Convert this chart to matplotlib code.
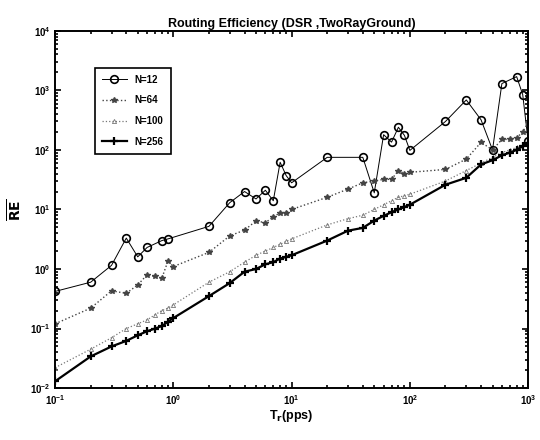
import matplotlib
matplotlib.use("Agg")
import matplotlib.pyplot as plt
from matplotlib.ticker import LogLocator, NullFormatter

# rate grid (pps)
rates = [0.1, 0.2, 0.3, 0.4, 0.5, 0.6, 0.7, 0.8, 0.9, 1,
         2, 3, 4, 5, 6, 7, 8, 9, 10,
         20, 30, 40, 50, 60, 70, 80, 90, 100,
         200, 300, 400, 500, 600, 700, 800, 900, 1000]

# N=12 (circles) - fewer visible points
rates_n12 = [0.1, 0.2, 0.3, 0.4, 0.5, 0.6, 0.8, 0.9,
             2, 3, 4, 5, 6, 7, 8, 9, 10,
             20, 40, 50, 60, 70, 80, 90, 100,
             200, 300, 400, 500, 600, 800, 900, 1000]
re_n12 = [0.42, 0.6, 1.15, 3.3, 1.6, 2.3, 3.0, 3.2,
          5.2, 13, 20, 15, 21, 14, 62, 37, 28,
          75, 75, 19, 180, 135, 240, 175, 98,
          300, 690, 320, 100, 1300, 1700, 850, 140]

re_n64 = [0.12, 0.22, 0.43, 0.39, 0.54, 0.8, 0.75, 0.7, 1.36, 1.1,
          1.9, 3.6, 4.5, 6.4, 6.0, 7.5, 8.8, 8.8, 10,
          16, 22, 28, 30, 32, 32, 45, 40, 42,
          47, 70, 134, 100, 150, 150, 160, 200, 290]

re_n100 = [0.022, 0.045, 0.07, 0.1, 0.12, 0.14, 0.17, 0.2, 0.22, 0.25,
           0.6, 0.9, 1.3, 1.7, 2.0, 2.3, 2.6, 2.9, 3.2,
           5.5, 7, 8, 10, 12, 14, 16, 17, 18,
           30, 45, 60, 75, 90, 100, 110, 125, 140]

re_n256 = [0.013, 0.034, 0.05, 0.062, 0.077, 0.09, 0.1, 0.11, 0.13, 0.15,
           0.35, 0.58, 0.9, 1.0, 1.2, 1.3, 1.5, 1.6, 1.7,
           3.0, 4.4, 4.9, 6.5, 7.8, 9, 10, 11, 12,
           26, 34, 57, 67, 81, 90, 100, 115, 130]

plt.rcParams['font.family'] = ['Liberation Sans', 'DejaVu Sans']
plt.rcParams['font.weight'] = 'bold'
plt.rcParams['mathtext.default'] = 'bf'

fig = plt.figure(figsize=(5.4, 4.4), dpi=100)
ax = fig.add_axes([0.102, 0.118, 0.876, 0.812])

ax.plot(rates_n12, re_n12, '-', color='black', lw=0.7, marker='o',
        ms=5.5, mfc='none', mew=1.2, label='N=12')
ax.plot(rates, re_n64, ':', color='#444444', lw=1.0, marker='*',
        ms=4, label='N=64')
ax.plot(rates, re_n100, ':', color='#777777', lw=0.9, marker='^',
        ms=3, mfc='none', mew=0.6, label='N=100')
ax.plot(rates, re_n256, '-', color='black', lw=1.6, marker='+',
        ms=6, mew=1.6, label='N=256')

ax.set_xscale('log')
ax.set_yscale('log')
ax.set_xlim(0.1, 1000)
ax.set_ylim(0.01, 10000)
ax.yaxis.set_major_locator(LogLocator(base=10, numticks=10))
ax.xaxis.set_minor_formatter(NullFormatter())
ax.yaxis.set_minor_formatter(NullFormatter())

ax.tick_params(which='both', direction='in', top=True, right=True,
               labelsize=7, width=1.2)
ax.tick_params(which='major', length=4)
ax.tick_params(which='minor', length=2)
for s in ax.spines.values():
    s.set_linewidth(1.4)

ax.set_title('Routing Efficiency (DSR ,TwoRayGround)', fontsize=9,
             fontweight='bold', pad=3)
ax.set_xlabel(r'T$_r$(pps)', fontsize=9, fontweight='bold', labelpad=1)
ax.set_ylabel(r'$\overline{RE}$', fontsize=10, labelpad=4)

leg = ax.legend(loc='upper left', bbox_to_anchor=(0.074, 0.91),
                fontsize=7, fancybox=False, edgecolor='black',
                framealpha=1, labelspacing=1.1, handlelength=2.6,
                borderpad=0.7)
leg.get_frame().set_linewidth(1.2)

fig.savefig('out.png', dpi=100)
